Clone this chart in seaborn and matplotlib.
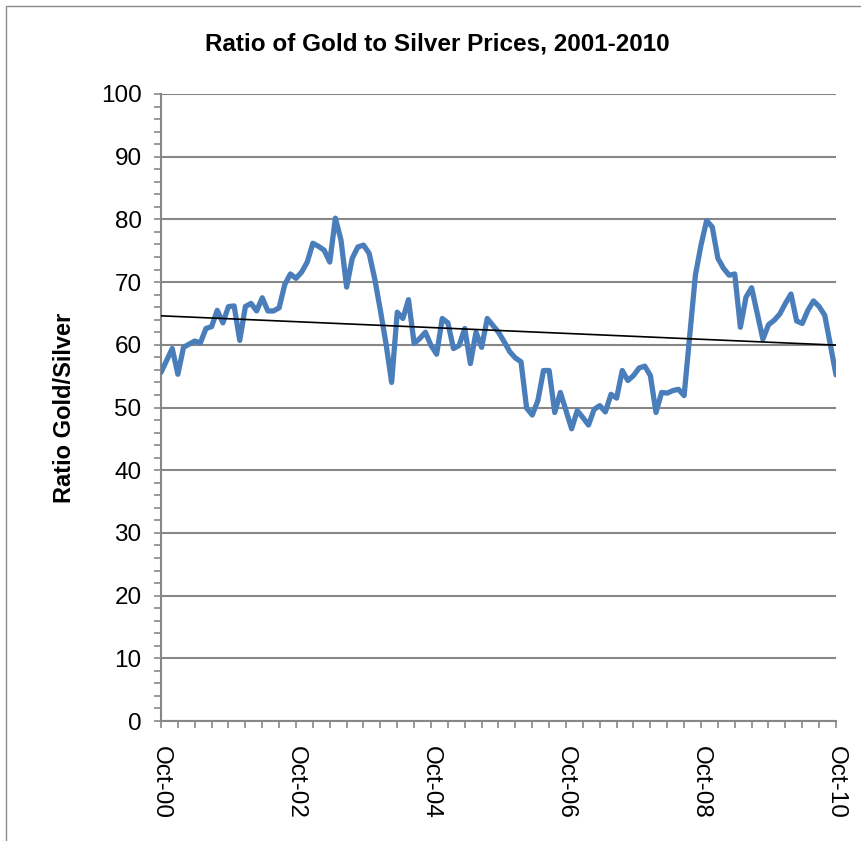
import numpy as np
import pandas as pd
import matplotlib
matplotlib.use("Agg")
import matplotlib.pyplot as plt
from matplotlib.ticker import MultipleLocator, FixedLocator
from matplotlib.patches import Rectangle
import seaborn as sns

# Monthly gold/silver price ratio, Oct 2000 - Oct 2010 (month 0 = Oct-00)
months = list(range(121))
ratio = [
    55.6, 57.5, 59.4, 55.3, 59.6, 60.1, 60.6, 60.3, 62.6, 62.9,
    65.5, 63.5, 66.1, 66.2, 60.7, 66.1, 66.6, 65.4, 67.5, 65.4,
    65.4, 65.9, 69.6, 71.3, 70.6, 71.6, 73.2, 76.2, 75.7, 75.1,
    73.2, 80.2, 76.7, 69.2, 73.8, 75.6, 75.9, 74.6, 70.5, 65.5,
    60.2, 54.0, 65.2, 64.2, 67.2, 60.2, 61.0, 62.0, 59.9, 58.5,
    64.2, 63.5, 59.4, 59.9, 62.6, 57.0, 62.0, 59.6, 64.2, 63.1,
    62.0, 60.5, 58.9, 57.9, 57.3, 49.9, 48.8, 51.1, 55.9, 55.9,
    49.2, 52.4, 49.5, 46.6, 49.5, 48.4, 47.2, 49.7, 50.3, 49.3,
    52.1, 51.5, 55.9, 54.3, 55.1, 56.3, 56.6, 55.1, 49.2, 52.4,
    52.3, 52.7, 52.9, 51.9, 61.5, 71.1, 75.9, 79.8, 78.8, 73.8,
    72.2, 71.1, 71.3, 62.8, 67.6, 69.1, 65.0, 60.9, 63.2, 63.9,
    64.9, 66.6, 68.1, 63.8, 63.4, 65.5, 67.0, 66.1, 64.7, 60.0,
    55.2,
]
tick_months = [0, 24, 48, 72, 96, 120]
tick_labels = ["Oct-00", "Oct-02", "Oct-04", "Oct-06", "Oct-08", "Oct-10"]

df = pd.DataFrame({"month": months, "ratio": ratio})

sns.set_style("white")
plt.rcParams["font.family"] = ["Liberation Sans", "DejaVu Sans"]

W, H = 862, 841
fig = plt.figure(figsize=(W / 100, H / 100), dpi=100)
ax = fig.add_axes([161 / W, 1 - 721 / H, (836 - 161) / W, (721 - 94) / H])

grid_col = "#878787"

sns.lineplot(data=df, x="month", y="ratio", ax=ax, color="#4A7EBB",
             linewidth=3.8, estimator=None, zorder=3)
sns.regplot(data=df, x="month", y="ratio", ax=ax, scatter=False, ci=None,
            truncate=True, line_kws=dict(color="black", linewidth=1.2, zorder=4))

ax.set_xlim(0, 120)
ax.set_ylim(0, 100)
ax.yaxis.set_major_locator(MultipleLocator(10))
ax.yaxis.set_minor_locator(MultipleLocator(2))
ax.xaxis.set_major_locator(FixedLocator(tick_months))
ax.xaxis.set_minor_locator(MultipleLocator(3))
ax.set_xticklabels(tick_labels, rotation=270, ha="center", va="top")

ax.grid(axis="y", which="major", color=grid_col, linewidth=1.5, zorder=0)
ax.set_axisbelow(True)
for side in ["top", "right"]:
    ax.spines[side].set_visible(False)
for side in ["left", "bottom"]:
    ax.spines[side].set_color(grid_col)
    ax.spines[side].set_linewidth(1.5)

ax.tick_params(axis="both", which="both", direction="out", color=grid_col,
               width=1.2, length=5, left=True, bottom=True,
               labelcolor="black")
ax.tick_params(axis="y", which="major", labelsize=17.5, pad=9)
ax.tick_params(axis="x", which="major", labelsize=17.5, pad=13)

ax.set_xlabel("")
ax.set_ylabel("Ratio Gold/Silver", fontsize=17, fontweight="bold",
              color="black", labelpad=18)

fig.text(437 / W, 1 - 44 / H, "Ratio of Gold to Silver Prices, 2001-2010",
         ha="center", va="center", fontsize=17.5, fontweight="bold",
         color="black")

# chart-area border
fig.add_artist(Rectangle((6 / W, -0.1), 1.2, 1 - 6 / H + 0.1,
                         transform=fig.transFigure, fill=False,
                         edgecolor="#8c8c8c", linewidth=1.0))

fig.savefig("out.png", dpi=100)
